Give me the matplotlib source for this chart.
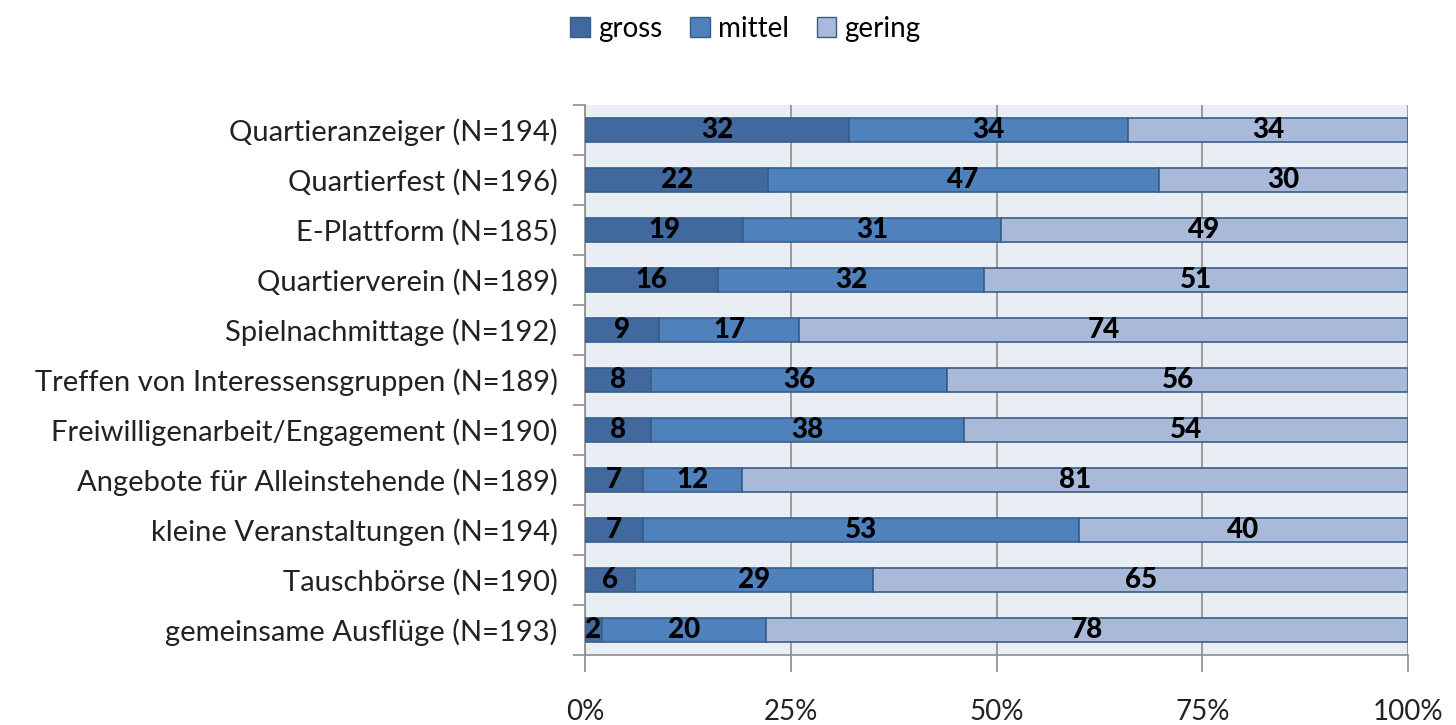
import numpy as np
import matplotlib.pyplot as plt
import matplotlib
from matplotlib.patches import Patch

matplotlib.rcParams["font.family"] = ["Lato", "DejaVu Sans"]

categories = [
    "Quartieranzeiger (N=194)",
    "Quartierfest (N=196)",
    "E-Plattform (N=185)",
    "Quartierverein (N=189)",
    "Spielnachmittage (N=192)",
    "Treffen von Interessensgruppen (N=189)",
    "Freiwilligenarbeit/Engagement (N=190)",
    "Angebote für Alleinstehende (N=189)",
    "kleine Veranstaltungen (N=194)",
    "Tauschbörse (N=190)",
    "gemeinsame Ausflüge (N=193)",
]
gross = [32, 22, 19, 16, 9, 8, 8, 7, 7, 6, 2]
mittel = [34, 47, 31, 32, 17, 36, 38, 12, 53, 29, 20]
gering = [34, 30, 49, 51, 74, 56, 54, 81, 40, 65, 78]

series = [("gross", gross, "#41699E"), ("mittel", mittel, "#4F81BD"), ("gering", gering, "#A9B9D8")]
edge = "#385D8A"

fig = plt.figure(figsize=(14.56, 7.25), dpi=100)
ax = fig.add_axes([0.402, 0.097, 0.565, 0.758])
ax.set_facecolor("#E9EDF4")

totals = np.array(gross) + np.array(mittel) + np.array(gering)
y = np.arange(len(categories))
left = np.zeros(len(categories))
for name, vals, col in series:
    w = np.array(vals) / totals
    ax.barh(y, w, left=left, height=0.48, color=col, edgecolor=edge, linewidth=1.2, zorder=3)
    for yi, (l, wi, v) in enumerate(zip(left, w, vals)):
        ax.text(l + wi / 2, yi, str(v), ha="center", va="center", fontsize=20,
                fontweight="black", color="black", zorder=4)
    left += w

ax.set_xlim(0, 1)
ax.set_ylim(len(categories) - 0.5, -0.5)
ax.set_xticks([0, 0.25, 0.5, 0.75, 1.0])
ax.set_xticklabels(["0%", "25%", "50%", "75%", "100%"], fontsize=20, color="#222222")
ax.xaxis.grid(True, color="#8C8C8C", linewidth=1.2, zorder=1)
ax.set_yticks(y)
ax.set_yticklabels(categories, fontsize=21, color="#222222")
ax.set_yticks(np.arange(len(categories) + 1) - 0.5, minor=True)
ax.tick_params(axis="y", which="major", length=0, pad=20)
ax.tick_params(axis="y", which="minor", length=9, color="#8C8C8C", width=1.2)
ax.tick_params(axis="x", length=12, color="#8C8C8C", width=1.2, pad=20)
for s in ["top", "right"]:
    ax.spines[s].set_visible(False)
for s in ["left", "bottom"]:
    ax.spines[s].set_color("#8C8C8C")
    ax.spines[s].set_linewidth(1.2)

handles = [Patch(facecolor=c, edgecolor=edge, label=n) for n, _, c in series]
fig.legend(handles=handles, loc="upper center", bbox_to_anchor=(0.512, 1.013), ncol=3,
           frameon=False, fontsize=20, handlelength=0.7, handleheight=0.7,
           handletextpad=0.3, columnspacing=1.0)

fig.savefig("out.png", dpi=100)
